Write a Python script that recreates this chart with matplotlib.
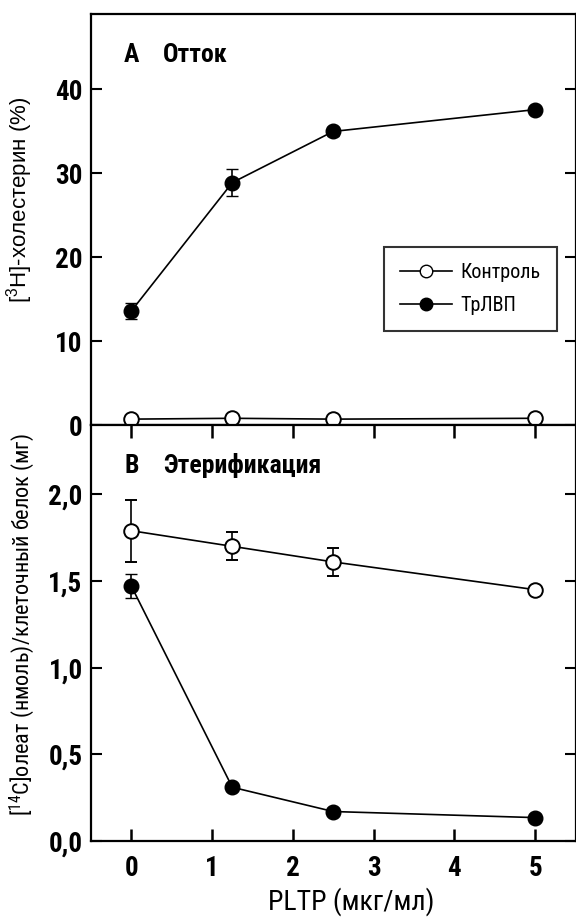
import matplotlib
matplotlib.use("Agg")
import matplotlib.pyplot as plt
from matplotlib.lines import Line2D

plt.rcParams['font.family'] = ['Roboto Condensed', 'DejaVu Sans']
plt.rcParams['mathtext.fontset'] = 'custom'
plt.rcParams['mathtext.rm'] = 'Roboto Condensed'
plt.rcParams['mathtext.default'] = 'regular'

# PLTP concentration (ug/ml)
pltp = [0, 1.25, 2.5, 5]

# panel A: efflux, [3H]-cholesterol (%)
efflux_control = [0.7, 0.8, 0.7, 0.8]
efflux_control_err = [0.0, 0.0, 0.0, 0.0]
efflux_trlvp = [13.6, 28.9, 35.0, 37.6]
efflux_trlvp_err = [1.0, 1.6, 0.5, 0.3]

# panel B: esterification, [14C]oleate
ester_control = [1.79, 1.70, 1.61, 1.45]
ester_control_err = [0.18, 0.08, 0.08, 0.02]
ester_trlvp = [1.47, 0.31, 0.17, 0.135]
ester_trlvp_err = [0.07, 0.02, 0.02, 0.02]

W, H = 576, 917
fig = plt.figure(figsize=(W / 100, H / 100), dpi=100)

left = 91 / W
right = 575.5 / W
axA = fig.add_axes([left, 1 - 425 / H, right - left, (425 - 14) / H])
axB = fig.add_axes([left, 1 - 841 / H, right - left, (841 - 425) / H])

ms = 10.5
lw = 1.2
tick_font = dict(fontsize=19.5, fontweight='bold')


def draw(ax, ctrl, ctrl_err, trl, trl_err):
    ax.errorbar(pltp, trl, yerr=trl_err, color='black', lw=lw, marker='o',
                ms=ms, mfc='black', mec='black', capsize=4, elinewidth=1.2,
                clip_on=False, zorder=3)
    ax.errorbar(pltp, ctrl, yerr=ctrl_err, color='black', lw=lw, marker='o',
                ms=ms, mfc='white', mec='black', mew=1.4, capsize=4,
                elinewidth=1.2, clip_on=False, zorder=4)
    for s in ax.spines.values():
        s.set_linewidth(1.6)
    ax.set_xlim(-0.5, 5.5)
    ax.tick_params(axis='y', which='both', direction='in', left=True,
                   right=True, length=8, width=1.5, pad=6)


draw(axA, efflux_control, efflux_control_err, efflux_trlvp, efflux_trlvp_err)
draw(axB, ester_control, ester_control_err, ester_trlvp, ester_trlvp_err)

axA.set_ylim(0, 49)
axA.set_yticks([0, 10, 20, 30, 40])
axA.set_yticklabels(['0', '10', '20', '30', '40'], **tick_font)
axA.tick_params(axis='x', bottom=False, labelbottom=False)

axB.set_ylim(0, 2.4)
axB.set_yticks([0, 0.5, 1.0, 1.5, 2.0])
axB.set_yticklabels(['0,0', '0,5', '1,0', '1,5', '2,0'], **tick_font)
axB.set_xticks([0, 1, 2, 3, 4, 5])
axB.set_xticklabels(['0', '1', '2', '3', '4', '5'], **tick_font)
axB.tick_params(axis='x', direction='in', top=True, bottom=True, length=9,
                width=1.8, pad=10)

# panel titles, placed in figure pixels
fig.text(124 / W, 1 - 62 / H, 'A', fontsize=18.5, fontweight='bold', va='baseline')
fig.text(163 / W, 1 - 62 / H, 'Отток', fontsize=18.5, fontweight='bold', va='baseline')
fig.text(124 / W, 1 - 473 / H, 'B', fontsize=18.5, fontweight='bold', va='baseline')
fig.text(163 / W, 1 - 473 / H, 'Этерификация', fontsize=18.5, fontweight='bold',
         va='baseline')

fig.text(20 / W, 1 - 200 / H, r'[$^{3}$H]-холестерин (%)', rotation=90,
         ha='center', va='center', fontsize=16, family='Liberation Sans')
fig.text(22 / W, 1 - 625 / H, r'[$^{14}$C]олеат (нмоль)/клеточный белок (мг)',
         rotation=90, ha='center', va='center', fontsize=16)
fig.text(351 / W, 1 - 902 / H, 'PLTP (мкг/мл)', ha='center', va='center',
         fontsize=20)

handles = [
    Line2D([], [], color='black', lw=lw, marker='o', ms=9, mfc='white', mec='black'),
    Line2D([], [], color='black', lw=lw, marker='o', ms=9, mfc='black', mec='black'),
]
leg = axA.legend(handles, ['Контроль', 'ТрЛВП'], loc='upper left',
                 bbox_to_anchor=((384 - 91) / (575.5 - 91), 1 - (247 - 14) / 411),
                 borderaxespad=0, frameon=True, fancybox=False,
                 edgecolor='black', fontsize=14.5, handlelength=2.6,
                 borderpad=0.8, labelspacing=0.7, handletextpad=0.4)
leg.get_frame().set_linewidth(1.5)

fig.savefig('out.png', dpi=100)
